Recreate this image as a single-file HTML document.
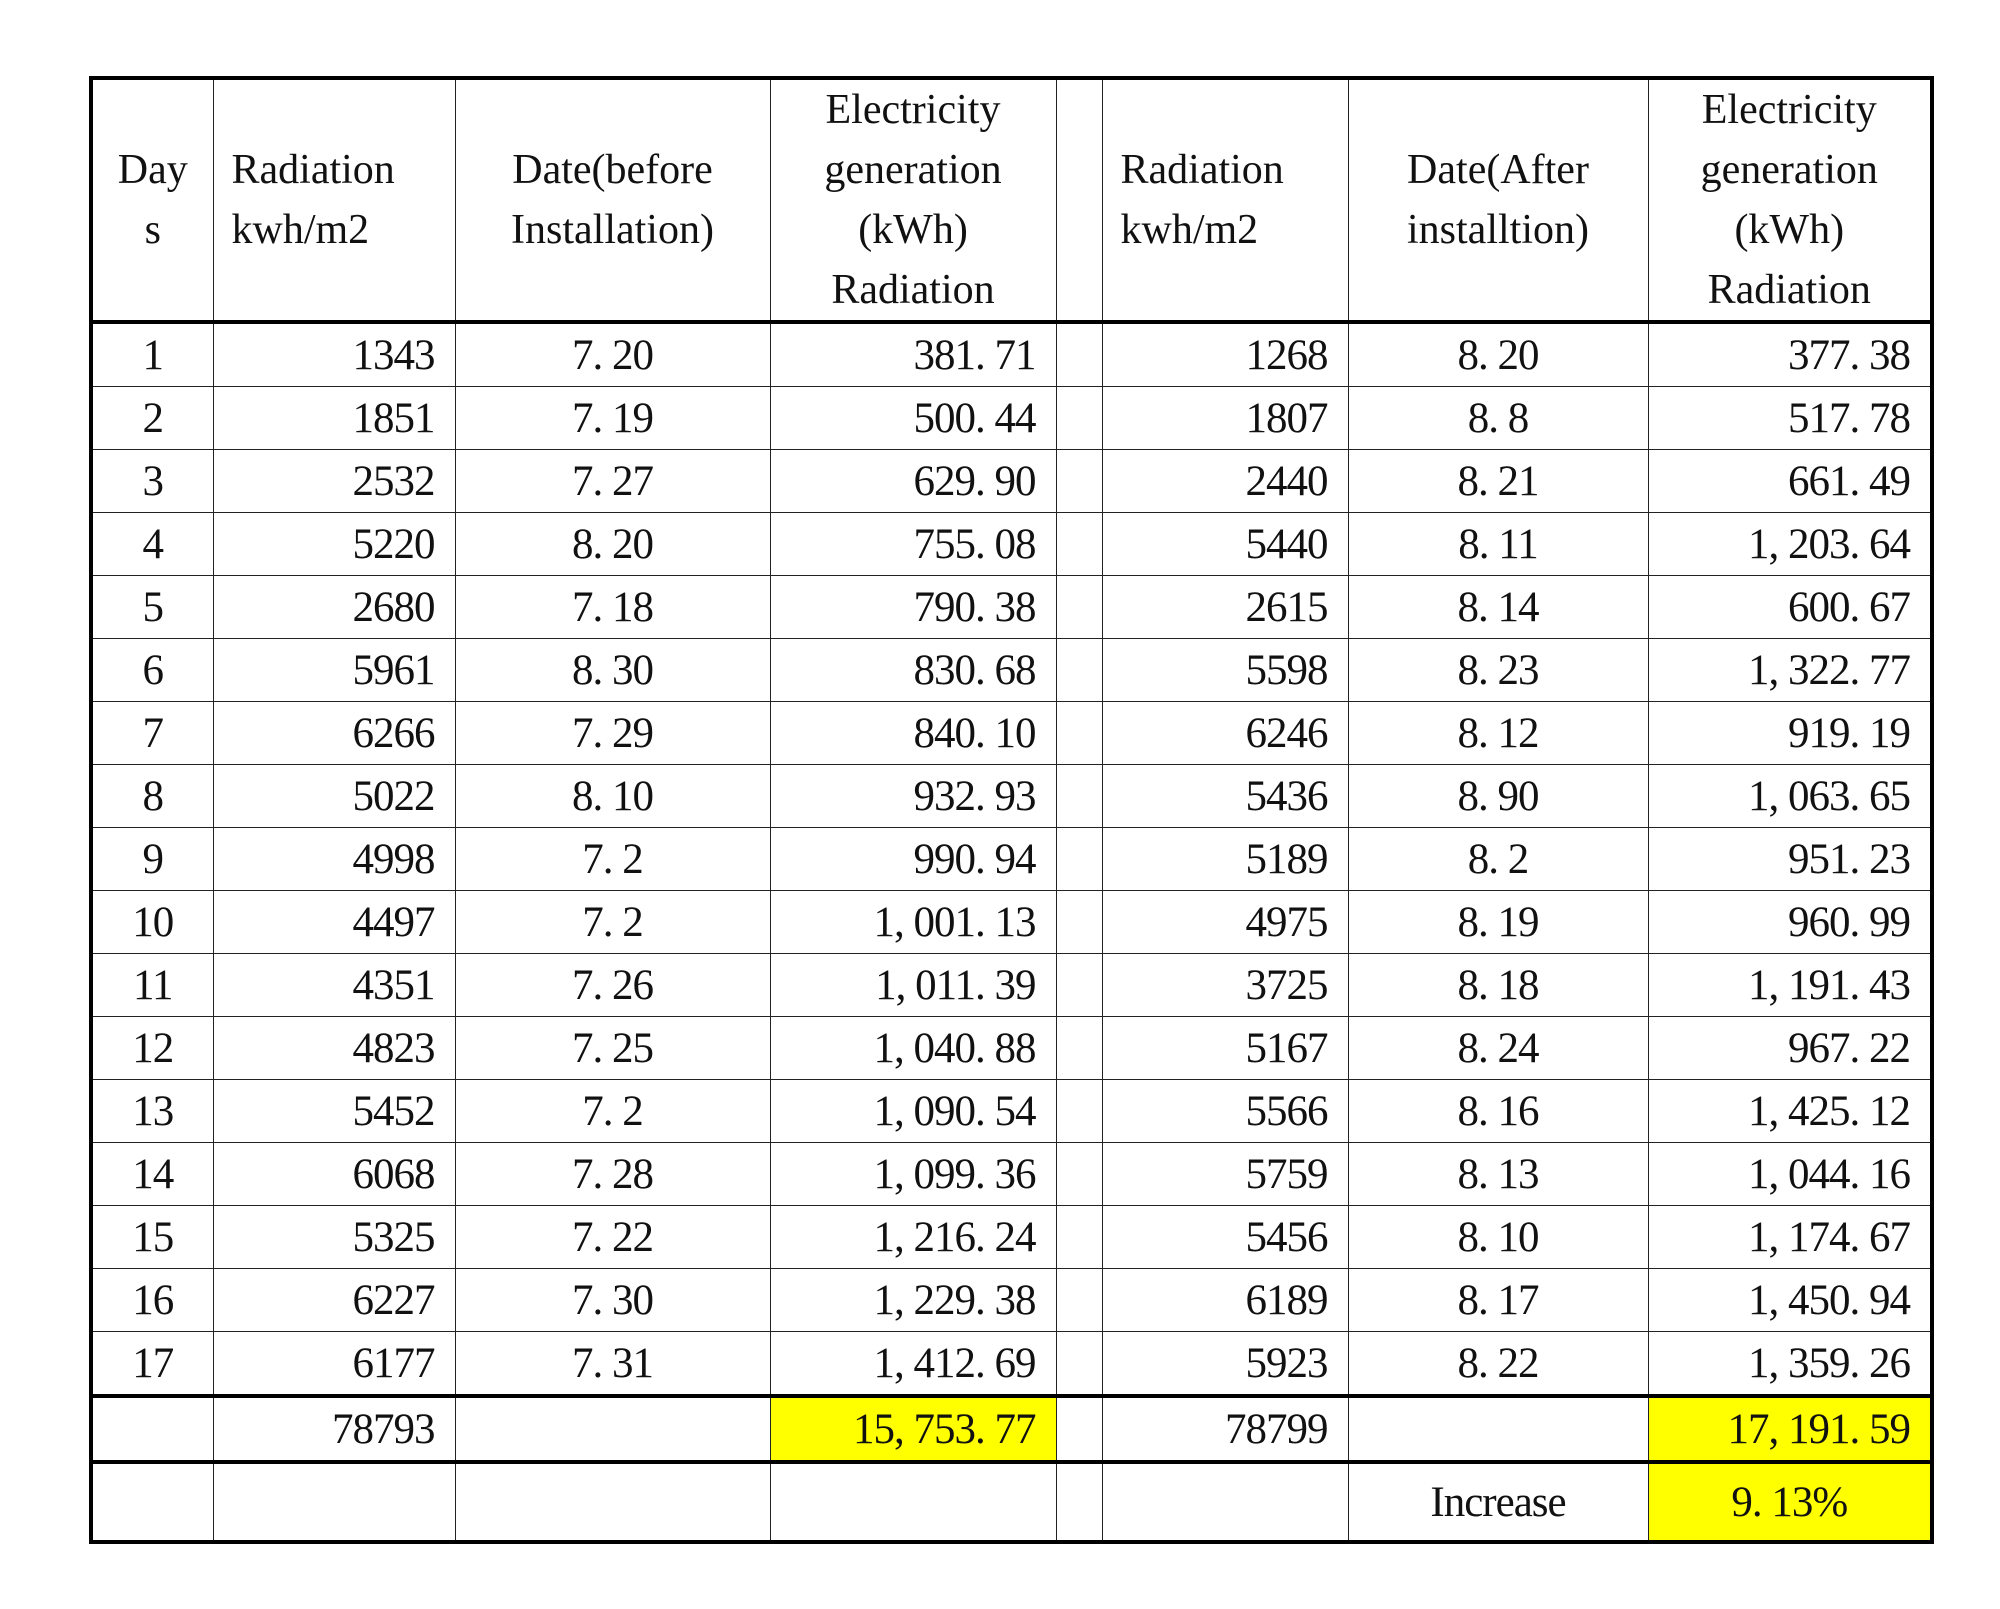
<!DOCTYPE html>
<html><head><meta charset="utf-8"><style>
html,body{margin:0;padding:0;background:#fff;width:2000px;height:1609px;overflow:hidden}
table{position:absolute;left:89px;top:76px;width:1841px;border-collapse:collapse;table-layout:fixed;font-family:"Liberation Serif","Noto Serif CJK SC",serif;font-size:43px;letter-spacing:-1px;color:#111}
td{border:1.5px solid #222;padding:0;overflow:hidden;white-space:nowrap}
td.r{text-align:right;padding-right:20px}
td.c{text-align:center}
tr.d td{height:62px}
tr.h td{height:235px;line-height:60px;font-size:42px;letter-spacing:0}
tr.h td.l{text-align:left;padding-left:18px}
tr.t td{height:62px;border-top:4px solid #000;border-bottom:4px solid #000}
tr.h td{border-bottom:4px solid #000}
tr.x td{height:76px}
.y{background:#ffff00}
</style></head><body>
<table style="border:4px solid #000">
<colgroup><col style="width:122px"><col style="width:242px"><col style="width:315px"><col style="width:286px"><col style="width:46px"><col style="width:246px"><col style="width:300px"><col style="width:284px"></colgroup>
<tr class="h"><td class="c">Day<br>s</td><td class="l">Radiation<br>kwh/m2</td><td class="c">Date(before<br>Installation)</td><td class="c">Electricity<br>generation<br>(kWh)<br>Radiation</td><td></td><td class="l">Radiation<br>kwh/m2</td><td class="c">Date(After<br>installtion)</td><td class="c">Electricity<br>generation<br>(kWh)<br>Radiation</td></tr>
<tr class="d"><td class="c">1</td><td class="r">1343</td><td class="c">7. 20</td><td class="r">381. 71</td><td></td><td class="r">1268</td><td class="c">8. 20</td><td class="r">377. 38</td></tr>
<tr class="d"><td class="c">2</td><td class="r">1851</td><td class="c">7. 19</td><td class="r">500. 44</td><td></td><td class="r">1807</td><td class="c">8. 8</td><td class="r">517. 78</td></tr>
<tr class="d"><td class="c">3</td><td class="r">2532</td><td class="c">7. 27</td><td class="r">629. 90</td><td></td><td class="r">2440</td><td class="c">8. 21</td><td class="r">661. 49</td></tr>
<tr class="d"><td class="c">4</td><td class="r">5220</td><td class="c">8. 20</td><td class="r">755. 08</td><td></td><td class="r">5440</td><td class="c">8. 11</td><td class="r">1, 203. 64</td></tr>
<tr class="d"><td class="c">5</td><td class="r">2680</td><td class="c">7. 18</td><td class="r">790. 38</td><td></td><td class="r">2615</td><td class="c">8. 14</td><td class="r">600. 67</td></tr>
<tr class="d"><td class="c">6</td><td class="r">5961</td><td class="c">8. 30</td><td class="r">830. 68</td><td></td><td class="r">5598</td><td class="c">8. 23</td><td class="r">1, 322. 77</td></tr>
<tr class="d"><td class="c">7</td><td class="r">6266</td><td class="c">7. 29</td><td class="r">840. 10</td><td></td><td class="r">6246</td><td class="c">8. 12</td><td class="r">919. 19</td></tr>
<tr class="d"><td class="c">8</td><td class="r">5022</td><td class="c">8. 10</td><td class="r">932. 93</td><td></td><td class="r">5436</td><td class="c">8. 90</td><td class="r">1, 063. 65</td></tr>
<tr class="d"><td class="c">9</td><td class="r">4998</td><td class="c">7. 2</td><td class="r">990. 94</td><td></td><td class="r">5189</td><td class="c">8. 2</td><td class="r">951. 23</td></tr>
<tr class="d"><td class="c">10</td><td class="r">4497</td><td class="c">7. 2</td><td class="r">1, 001. 13</td><td></td><td class="r">4975</td><td class="c">8. 19</td><td class="r">960. 99</td></tr>
<tr class="d"><td class="c">11</td><td class="r">4351</td><td class="c">7. 26</td><td class="r">1, 011. 39</td><td></td><td class="r">3725</td><td class="c">8. 18</td><td class="r">1, 191. 43</td></tr>
<tr class="d"><td class="c">12</td><td class="r">4823</td><td class="c">7. 25</td><td class="r">1, 040. 88</td><td></td><td class="r">5167</td><td class="c">8. 24</td><td class="r">967. 22</td></tr>
<tr class="d"><td class="c">13</td><td class="r">5452</td><td class="c">7. 2</td><td class="r">1, 090. 54</td><td></td><td class="r">5566</td><td class="c">8. 16</td><td class="r">1, 425. 12</td></tr>
<tr class="d"><td class="c">14</td><td class="r">6068</td><td class="c">7. 28</td><td class="r">1, 099. 36</td><td></td><td class="r">5759</td><td class="c">8. 13</td><td class="r">1, 044. 16</td></tr>
<tr class="d"><td class="c">15</td><td class="r">5325</td><td class="c">7. 22</td><td class="r">1, 216. 24</td><td></td><td class="r">5456</td><td class="c">8. 10</td><td class="r">1, 174. 67</td></tr>
<tr class="d"><td class="c">16</td><td class="r">6227</td><td class="c">7. 30</td><td class="r">1, 229. 38</td><td></td><td class="r">6189</td><td class="c">8. 17</td><td class="r">1, 450. 94</td></tr>
<tr class="d"><td class="c">17</td><td class="r">6177</td><td class="c">7. 31</td><td class="r">1, 412. 69</td><td></td><td class="r">5923</td><td class="c">8. 22</td><td class="r">1, 359. 26</td></tr>
<tr class="t"><td></td><td class="r">78793</td><td></td><td class="r y">15, 753. 77</td><td></td><td class="r">78799</td><td></td><td class="r y">17, 191. 59</td></tr>
<tr class="x"><td></td><td></td><td></td><td></td><td></td><td></td><td class="c">Increase</td><td class="c y">9. 13%</td></tr>
</table>
</body></html>
